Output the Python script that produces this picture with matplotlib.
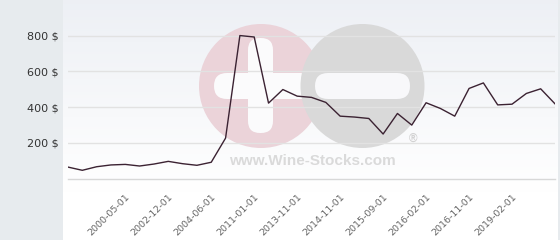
import matplotlib
matplotlib.use("Agg")
import numpy as np
import matplotlib.pyplot as plt
from matplotlib.patches import Circle, FancyBboxPatch
from matplotlib.transforms import ScaledTranslation

# price history (USD), one point per listing date
prices = [65, 47, 67, 77, 80, 71, 82, 97, 84, 75, 92, 227, 801, 793, 423,
          499, 462, 455, 427, 350, 345, 337, 250, 365, 300, 425, 393, 350,
          505, 536, 413, 417, 477, 503, 419]
tick_labels = ["2000-05-01", "2002-12-01", "2004-06-01", "2011-01-01",
               "2013-11-01", "2014-11-01", "2015-09-01", "2016-02-01",
               "2016-11-01", "2019-02-01"]
tick_idx = list(range(4, 4 + 3 * len(tick_labels), 3))
y_ticks = [200, 400, 600, 800]

W, H = 560, 240
fig = plt.figure(figsize=(W / 100, H / 100), dpi=100, facecolor="#e7ebee")

# plot background gradient
bg = fig.add_axes([63 / W, 0, 495 / W, 1], zorder=0)
grad = np.linspace(0, 1, 240)
grad = np.clip(grad / 0.8, 0, 1)[:, None]
top = np.array([0.93, 0.94, 0.96])
img = top + (1 - top) * grad[..., None]
bg.imshow(np.repeat(img, 2, axis=1), aspect="auto", extent=[0, 1, 1, 0])
bg.set_axis_off()

# watermark
wm = fig.add_axes([0, 0, 1, 1], zorder=1)
wm.set_xlim(0, W)
wm.set_ylim(H, 0)
wm.set_axis_off()
wm.patch.set_alpha(0)
wm.add_patch(Circle((261, 86), 62, color="#ebd3d9", lw=0))
wm.add_patch(FancyBboxPatch((214, 73), 100, 26, boxstyle="round,pad=0,rounding_size=13",
                            color="#fbfbfc", lw=0))
wm.add_patch(FancyBboxPatch((248, 38), 25, 95, boxstyle="round,pad=0,rounding_size=12",
                            color="#fbfbfc", lw=0))
wm.add_patch(Circle((362.5, 86), 62, color="#d9d9d9", lw=0))
wm.add_patch(FancyBboxPatch((315, 73), 95, 26, boxstyle="round,pad=0,rounding_size=13",
                            color="#f8f8fa", lw=0))
wm.text(312, 161, "www.Wine-Stocks.com", ha="center", va="center",
        fontsize=11, fontweight="bold", family="Liberation Sans", color="#dadada")
wm.text(413, 139, "®", ha="center", va="center", fontsize=8.5,
        fontweight="bold", family="Liberation Sans", color="#d2d2d2")

# main chart
ax = fig.add_axes([68 / W, (H - 178.7) / H, 487 / W, 178.7 / H], zorder=2)
ax.patch.set_alpha(0)
x = np.arange(len(prices))
ax.plot(x, prices, color="#3b2232", lw=1.0, zorder=3)
ax.set_xlim(0, len(prices) - 1)
ax.set_ylim(0, 1000)
ax.set_yticks(y_ticks)
ax.set_yticklabels([f"{v} $" for v in y_ticks])
ax.grid(axis="y", color="#e2e2e2", lw=1.0)
ax.set_axisbelow(True)
for s in ["top", "right", "left"]:
    ax.spines[s].set_visible(False)
ax.spines["bottom"].set_color("#d8d8d8")
ax.spines["bottom"].set_linewidth(1.0)
ax.tick_params(axis="y", length=0, pad=6.5, labelsize=8, labelcolor="#333333")
ax.set_xticks(tick_idx)
ax.set_xticklabels(tick_labels, rotation=45, ha="right", va="center",
                   rotation_mode="anchor", fontsize=6.8, color="#666666")
ax.tick_params(axis="x", length=0, pad=12)
for lab in ax.get_xticklabels():
    lab.set_transform(lab.get_transform() + ScaledTranslation(3 / 100, 0, fig.dpi_scale_trans))

fig.savefig("out.png", dpi=100, facecolor=fig.get_facecolor())
